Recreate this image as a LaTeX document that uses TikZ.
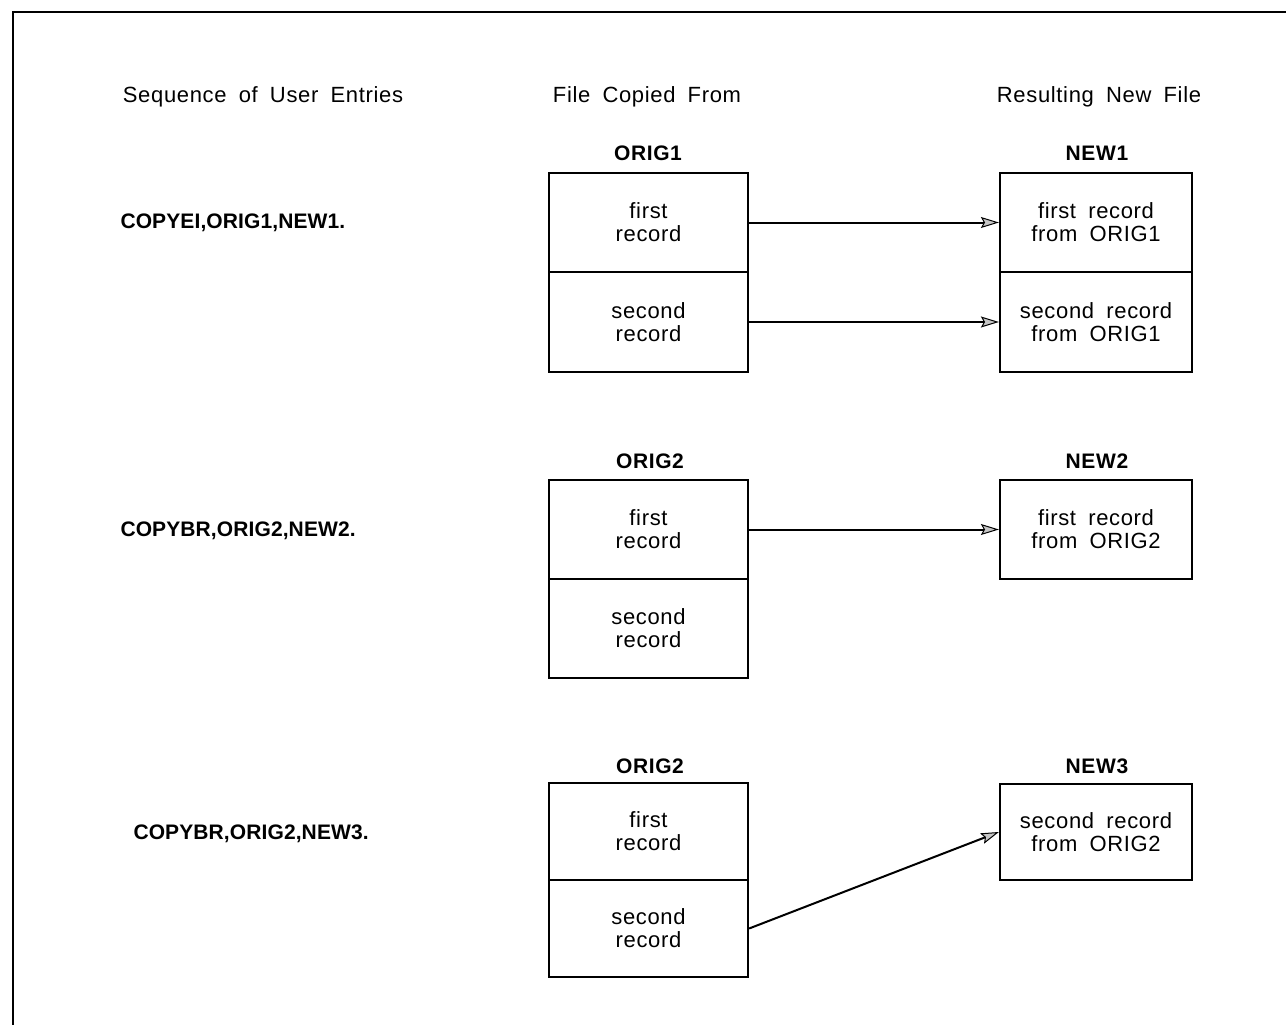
\documentclass[tikz,border=0pt]{standalone}
\usepackage{fontspec}
\setmainfont{Liberation Sans}[LetterSpace=3,WordSpace=1.8]
\newfontfamily\cmdfont{Liberation Sans}[LetterSpace=0.5]
\usetikzlibrary{arrows.meta}
\tikzset{
  every node/.style={font=\fontsize{22}{23}\selectfont},
  cell/.style={draw, line width=2.2pt, inner sep=0pt, align=center},
  origcell/.style={cell, minimum width=199pt},
  newcell/.style={cell, minimum width=192pt},
  boxlabel/.style={font=\fontsize{21}{23}\selectfont\bfseries},
  command/.style={font=\cmdfont\fontsize{21}{23}\selectfont\bfseries, anchor=west},
  heading/.style={},
  copyarrow/.style={line width=2pt, -{Stealth[length=18pt,width=11pt,inset=3pt,fill=gray!45,line width=1pt]}},
  frameline/.style={line width=2pt}
}
\begin{document}
\begin{tikzpicture}[x=1pt,y=-1pt]
\useasboundingbox (0,0) rectangle (1286,1025);
% outer frame (top and left edges)
\coordinate (fbl) at (13,1025);
\coordinate (ftl) at (13,12);
\coordinate (ftr) at (1286,12);
\draw[frameline] (fbl) -- (ftl) -- (ftr);

% column headings
\node[heading] (hseq) at (263,97) {Sequence of User Entries};
\node[heading] (hfrom) at (647,97) {File Copied From};
\node[heading] (hnew) at (1099,97) {Resulting New File};

% user entries
\node[command] (c1) at (117,223) {COPYEI,ORIG1,NEW1.};
\node[command] (c2) at (117,531) {COPYBR,ORIG2,NEW2.};
\node[command] (c3) at (130,834) {COPYBR,ORIG2,NEW3.};

% row 1
\node[origcell, minimum height=99pt] (o1a) at (648.5,222.5) {first\\record};
\node[origcell, minimum height=100pt] (o1b) at (648.5,322) {second\\record};
\node[boxlabel] (lo1) at (648,153) {ORIG1};
\node[newcell, minimum height=99pt] (n1a) at (1096,222.5) {first record\\from ORIG1};
\node[newcell, minimum height=100pt] (n1b) at (1096,322) {second record\\from ORIG1};
\node[boxlabel] (ln1) at (1097,153) {NEW1};
\draw[copyarrow] (o1a.east) -- (n1a.west);
\draw[copyarrow] (o1b.east) -- (n1b.west);

% row 2
\node[origcell, minimum height=99pt] (o2a) at (648.5,529.5) {first\\record};
\node[origcell, minimum height=99pt] (o2b) at (648.5,628.5) {second\\record};
\node[boxlabel] (lo2) at (650,461) {ORIG2};
\node[newcell, minimum height=99pt] (n2) at (1096,529.5) {first record\\from ORIG2};
\node[boxlabel] (ln2) at (1097,461) {NEW2};
\draw[copyarrow] (o2a.east) -- (n2.west);

% row 3
\node[origcell, minimum height=97pt] (o3a) at (648.5,831.5) {first\\record};
\node[origcell, minimum height=97pt] (o3b) at (648.5,928.5) {second\\record};
\node[boxlabel] (lo3) at (650,766) {ORIG2};
\node[newcell, minimum height=96pt] (n3) at (1096,832) {second record\\from ORIG2};
\node[boxlabel] (ln3) at (1097,766) {NEW3};
\draw[copyarrow] (o3b.east) -- (n3.west);
\end{tikzpicture}
\end{document}
